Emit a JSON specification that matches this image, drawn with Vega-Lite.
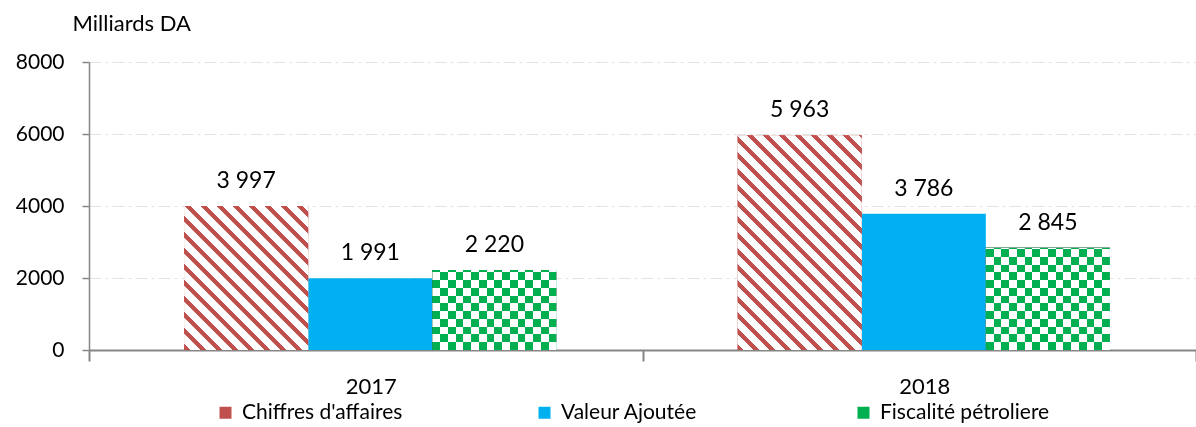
{
  "$schema": "https://vega.github.io/schema/vega-lite/v6.json",
  "width": 1107,
  "height": 288,
  "autosize": {"type": "none"},
  "padding": {"left": 89, "top": 62, "right": 0, "bottom": 77},
  "config": {
    "font": "Lato",
    "view": {"stroke": null},
    "locale": {"number": {"decimal": ",", "thousands": " ", "grouping": [3], "currency": ["", " DA"]}}
  },
  "data": {
    "values": [
      {"year": "2017", "series": "Chiffres d'affaires", "value": 3997},
      {"year": "2017", "series": "Valeur Ajoutée", "value": 1991},
      {"year": "2017", "series": "Fiscalité pétroliere", "value": 2220},
      {"year": "2018", "series": "Chiffres d'affaires", "value": 5963},
      {"year": "2018", "series": "Valeur Ajoutée", "value": 3786},
      {"year": "2018", "series": "Fiscalité pétroliere", "value": 2845}
    ]
  },
  "encoding": {
    "x": {
      "field": "year", "type": "nominal",
      "scale": {"domain": ["2017", "2018"], "paddingInner": 0, "paddingOuter": 0},
      "axis": {
        "title": null, "labelAngle": 0, "labelFontSize": 22, "labelColor": "#000000", "labelOffset": 5,
        "tickBand": "extent", "tickSize": 11, "tickColor": "#868686", "tickWidth": 2,
        "domainColor": "#868686", "domainWidth": 2, "labelPadding": 15, "grid": false
      }
    },
    "xOffset": {
      "field": "series", "type": "nominal",
      "scale": {"domain": ["Chiffres d'affaires", "Valeur Ajoutée", "Fiscalité pétroliere"], "paddingInner": 0, "paddingOuter": 0.73, "align": 0.525}
    },
    "y": {
      "field": "value", "type": "quantitative",
      "scale": {"domain": [0, 8000], "nice": false},
      "axis": {
        "title": "Milliards DA", "titleAngle": 0, "titleAlign": "left", "titleBaseline": "alphabetic",
        "titleX": -17, "titleY": -32, "titleFontSize": 22, "titleFontWeight": "normal", "titleColor": "#000000",
        "values": [0, 2000, 4000, 6000, 8000], "format": "d",
        "labelFontSize": 21, "labelColor": "#000000", "labelPadding": 18,
        "tickSize": 7, "tickColor": "#868686", "tickWidth": 1.5,
        "domainColor": "#868686", "domainWidth": 1.5,
        "grid": true, "gridColor": "#e3e3e3", "gridDash": [12, 4, 3, 4], "gridWidth": 1.2
      }
    }
  },
  "layer": [
    {
      "mark": {"type": "bar"},
      "encoding": {
        "color": {
          "field": "series", "type": "nominal",
          "scale": {"domain": ["Chiffres d'affaires", "Valeur Ajoutée", "Fiscalité pétroliere"], "range": ["#c0504d", "#00b0f0", "#00b050"]},
          "legend": {
            "orient": "none", "legendX": 126, "legendY": 340, "direction": "horizontal",
            "columns": 3, "gridAlign": "all", "columnPadding": 122, "title": null,
            "symbolType": "square", "symbolSize": 144, "symbolStrokeWidth": 0,
            "labelFontSize": 21, "labelColor": "#000000", "labelOffset": 6, "labelLimit": 0
          }
        }
      }
    },
    {
      "transform": [{"filter": {"and": [{"field": "series", "equal": "Chiffres d'affaires"}, {"field": "year", "equal": "2017"}]}}],
      "mark": {"type": "bar", "fill": {"gradient": "linear", "x1": 0, "y1": 1, "x2": 0.921, "y2": -0.068, "stops": [
        {"offset": 0, "color": "#c0504d"}, {"offset": 0.0227, "color": "#c0504d"}, {"offset": 0.0227, "color": "#ffffff"}, {"offset": 0.0597, "color": "#ffffff"},
        {"offset": 0.0597, "color": "#c0504d"}, {"offset": 0.0824, "color": "#c0504d"}, {"offset": 0.0824, "color": "#ffffff"}, {"offset": 0.1194, "color": "#ffffff"},
        {"offset": 0.1194, "color": "#c0504d"}, {"offset": 0.1421, "color": "#c0504d"}, {"offset": 0.1421, "color": "#ffffff"}, {"offset": 0.1791, "color": "#ffffff"},
        {"offset": 0.1791, "color": "#c0504d"}, {"offset": 0.2018, "color": "#c0504d"}, {"offset": 0.2018, "color": "#ffffff"}, {"offset": 0.2388, "color": "#ffffff"},
        {"offset": 0.2388, "color": "#c0504d"}, {"offset": 0.2615, "color": "#c0504d"}, {"offset": 0.2615, "color": "#ffffff"}, {"offset": 0.2986, "color": "#ffffff"},
        {"offset": 0.2986, "color": "#c0504d"}, {"offset": 0.3213, "color": "#c0504d"}, {"offset": 0.3213, "color": "#ffffff"}, {"offset": 0.3583, "color": "#ffffff"},
        {"offset": 0.3583, "color": "#c0504d"}, {"offset": 0.381, "color": "#c0504d"}, {"offset": 0.381, "color": "#ffffff"}, {"offset": 0.418, "color": "#ffffff"},
        {"offset": 0.418, "color": "#c0504d"}, {"offset": 0.4407, "color": "#c0504d"}, {"offset": 0.4407, "color": "#ffffff"}, {"offset": 0.4777, "color": "#ffffff"},
        {"offset": 0.4777, "color": "#c0504d"}, {"offset": 0.5004, "color": "#c0504d"}, {"offset": 0.5004, "color": "#ffffff"}, {"offset": 0.5374, "color": "#ffffff"},
        {"offset": 0.5374, "color": "#c0504d"}, {"offset": 0.5601, "color": "#c0504d"}, {"offset": 0.5601, "color": "#ffffff"}, {"offset": 0.5971, "color": "#ffffff"},
        {"offset": 0.5971, "color": "#c0504d"}, {"offset": 0.6198, "color": "#c0504d"}, {"offset": 0.6198, "color": "#ffffff"}, {"offset": 0.6568, "color": "#ffffff"},
        {"offset": 0.6568, "color": "#c0504d"}, {"offset": 0.6795, "color": "#c0504d"}, {"offset": 0.6795, "color": "#ffffff"}, {"offset": 0.7165, "color": "#ffffff"},
        {"offset": 0.7165, "color": "#c0504d"}, {"offset": 0.7392, "color": "#c0504d"}, {"offset": 0.7392, "color": "#ffffff"}, {"offset": 0.7762, "color": "#ffffff"},
        {"offset": 0.7762, "color": "#c0504d"}, {"offset": 0.7989, "color": "#c0504d"}, {"offset": 0.7989, "color": "#ffffff"}, {"offset": 0.836, "color": "#ffffff"},
        {"offset": 0.836, "color": "#c0504d"}, {"offset": 0.8587, "color": "#c0504d"}, {"offset": 0.8587, "color": "#ffffff"}, {"offset": 0.8957, "color": "#ffffff"},
        {"offset": 0.8957, "color": "#c0504d"}, {"offset": 0.9184, "color": "#c0504d"}, {"offset": 0.9184, "color": "#ffffff"}, {"offset": 0.9554, "color": "#ffffff"},
        {"offset": 0.9554, "color": "#c0504d"}, {"offset": 0.9781, "color": "#c0504d"}, {"offset": 0.9781, "color": "#ffffff"}, {"offset": 1, "color": "#ffffff"}
      ]}}
    },
    {
      "transform": [{"filter": {"and": [{"field": "series", "equal": "Chiffres d'affaires"}, {"field": "year", "equal": "2018"}]}}],
      "mark": {"type": "bar", "fill": {"gradient": "linear", "x1": 0, "y1": 1, "x2": 0.6835, "y2": -0.1826, "stops": [
        {"offset": 0, "color": "#c0504d"}, {"offset": 0.018, "color": "#c0504d"}, {"offset": 0.018, "color": "#ffffff"}, {"offset": 0.0472, "color": "#ffffff"},
        {"offset": 0.0472, "color": "#c0504d"}, {"offset": 0.0652, "color": "#c0504d"}, {"offset": 0.0652, "color": "#ffffff"}, {"offset": 0.0945, "color": "#ffffff"},
        {"offset": 0.0945, "color": "#c0504d"}, {"offset": 0.1125, "color": "#c0504d"}, {"offset": 0.1125, "color": "#ffffff"}, {"offset": 0.1417, "color": "#ffffff"},
        {"offset": 0.1417, "color": "#c0504d"}, {"offset": 0.1597, "color": "#c0504d"}, {"offset": 0.1597, "color": "#ffffff"}, {"offset": 0.189, "color": "#ffffff"},
        {"offset": 0.189, "color": "#c0504d"}, {"offset": 0.207, "color": "#c0504d"}, {"offset": 0.207, "color": "#ffffff"}, {"offset": 0.2362, "color": "#ffffff"},
        {"offset": 0.2362, "color": "#c0504d"}, {"offset": 0.2542, "color": "#c0504d"}, {"offset": 0.2542, "color": "#ffffff"}, {"offset": 0.2834, "color": "#ffffff"},
        {"offset": 0.2834, "color": "#c0504d"}, {"offset": 0.3014, "color": "#c0504d"}, {"offset": 0.3014, "color": "#ffffff"}, {"offset": 0.3307, "color": "#ffffff"},
        {"offset": 0.3307, "color": "#c0504d"}, {"offset": 0.3487, "color": "#c0504d"}, {"offset": 0.3487, "color": "#ffffff"}, {"offset": 0.3779, "color": "#ffffff"},
        {"offset": 0.3779, "color": "#c0504d"}, {"offset": 0.3959, "color": "#c0504d"}, {"offset": 0.3959, "color": "#ffffff"}, {"offset": 0.4252, "color": "#ffffff"},
        {"offset": 0.4252, "color": "#c0504d"}, {"offset": 0.4432, "color": "#c0504d"}, {"offset": 0.4432, "color": "#ffffff"}, {"offset": 0.4724, "color": "#ffffff"},
        {"offset": 0.4724, "color": "#c0504d"}, {"offset": 0.4904, "color": "#c0504d"}, {"offset": 0.4904, "color": "#ffffff"}, {"offset": 0.5196, "color": "#ffffff"},
        {"offset": 0.5196, "color": "#c0504d"}, {"offset": 0.5376, "color": "#c0504d"}, {"offset": 0.5376, "color": "#ffffff"}, {"offset": 0.5669, "color": "#ffffff"},
        {"offset": 0.5669, "color": "#c0504d"}, {"offset": 0.5849, "color": "#c0504d"}, {"offset": 0.5849, "color": "#ffffff"}, {"offset": 0.6141, "color": "#ffffff"},
        {"offset": 0.6141, "color": "#c0504d"}, {"offset": 0.6321, "color": "#c0504d"}, {"offset": 0.6321, "color": "#ffffff"}, {"offset": 0.6614, "color": "#ffffff"},
        {"offset": 0.6614, "color": "#c0504d"}, {"offset": 0.6794, "color": "#c0504d"}, {"offset": 0.6794, "color": "#ffffff"}, {"offset": 0.7086, "color": "#ffffff"},
        {"offset": 0.7086, "color": "#c0504d"}, {"offset": 0.7266, "color": "#c0504d"}, {"offset": 0.7266, "color": "#ffffff"}, {"offset": 0.7558, "color": "#ffffff"},
        {"offset": 0.7558, "color": "#c0504d"}, {"offset": 0.7738, "color": "#c0504d"}, {"offset": 0.7738, "color": "#ffffff"}, {"offset": 0.8031, "color": "#ffffff"},
        {"offset": 0.8031, "color": "#c0504d"}, {"offset": 0.8211, "color": "#c0504d"}, {"offset": 0.8211, "color": "#ffffff"}, {"offset": 0.8503, "color": "#ffffff"},
        {"offset": 0.8503, "color": "#c0504d"}, {"offset": 0.8683, "color": "#c0504d"}, {"offset": 0.8683, "color": "#ffffff"}, {"offset": 0.8976, "color": "#ffffff"},
        {"offset": 0.8976, "color": "#c0504d"}, {"offset": 0.9156, "color": "#c0504d"}, {"offset": 0.9156, "color": "#ffffff"}, {"offset": 0.9448, "color": "#ffffff"},
        {"offset": 0.9448, "color": "#c0504d"}, {"offset": 0.9628, "color": "#c0504d"}, {"offset": 0.9628, "color": "#ffffff"}, {"offset": 0.992, "color": "#ffffff"},
        {"offset": 0.992, "color": "#c0504d"}, {"offset": 1, "color": "#c0504d"}
      ]}}
    },
    {
      "transform": [{"filter": {"field": "series", "equal": "Fiscalité pétroliere"}}],
      "mark": {"type": "bar", "fill": {"gradient": "linear", "x1": 0, "y1": 0, "x2": 1, "y2": 0, "stops": [
        {"offset": 0, "color": "#000000"}, {"offset": 0.0625, "color": "#000000"}, {"offset": 0.0625, "color": "#ffffff"}, {"offset": 0.125, "color": "#ffffff"},
        {"offset": 0.125, "color": "#000000"}, {"offset": 0.1875, "color": "#000000"}, {"offset": 0.1875, "color": "#ffffff"}, {"offset": 0.25, "color": "#ffffff"},
        {"offset": 0.25, "color": "#000000"}, {"offset": 0.3125, "color": "#000000"}, {"offset": 0.3125, "color": "#ffffff"}, {"offset": 0.375, "color": "#ffffff"},
        {"offset": 0.375, "color": "#000000"}, {"offset": 0.4375, "color": "#000000"}, {"offset": 0.4375, "color": "#ffffff"}, {"offset": 0.5, "color": "#ffffff"},
        {"offset": 0.5, "color": "#000000"}, {"offset": 0.5625, "color": "#000000"}, {"offset": 0.5625, "color": "#ffffff"}, {"offset": 0.625, "color": "#ffffff"},
        {"offset": 0.625, "color": "#000000"}, {"offset": 0.6875, "color": "#000000"}, {"offset": 0.6875, "color": "#ffffff"}, {"offset": 0.75, "color": "#ffffff"},
        {"offset": 0.75, "color": "#000000"}, {"offset": 0.8125, "color": "#000000"}, {"offset": 0.8125, "color": "#ffffff"}, {"offset": 0.875, "color": "#ffffff"},
        {"offset": 0.875, "color": "#000000"}, {"offset": 0.9375, "color": "#000000"}, {"offset": 0.9375, "color": "#ffffff"}, {"offset": 1, "color": "#ffffff"}
      ]}}
    },
    {
      "transform": [{"filter": {"and": [{"field": "series", "equal": "Fiscalité pétroliere"}, {"field": "year", "equal": "2017"}]}}],
      "mark": {"type": "bar", "blend": "difference", "fill": {"gradient": "linear", "x1": 0, "y1": 1, "x2": 0, "y2": 0, "stops": [
        {"offset": 0, "color": "#000000"}, {"offset": 0.097, "color": "#000000"}, {"offset": 0.097, "color": "#ffffff"}, {"offset": 0.194, "color": "#ffffff"},
        {"offset": 0.194, "color": "#000000"}, {"offset": 0.291, "color": "#000000"}, {"offset": 0.291, "color": "#ffffff"}, {"offset": 0.388, "color": "#ffffff"},
        {"offset": 0.388, "color": "#000000"}, {"offset": 0.485, "color": "#000000"}, {"offset": 0.485, "color": "#ffffff"}, {"offset": 0.582, "color": "#ffffff"},
        {"offset": 0.582, "color": "#000000"}, {"offset": 0.679, "color": "#000000"}, {"offset": 0.679, "color": "#ffffff"}, {"offset": 0.776, "color": "#ffffff"},
        {"offset": 0.776, "color": "#000000"}, {"offset": 0.873, "color": "#000000"}, {"offset": 0.873, "color": "#ffffff"}, {"offset": 0.97, "color": "#ffffff"},
        {"offset": 0.97, "color": "#000000"}, {"offset": 1, "color": "#000000"}
      ]}}
    },
    {
      "transform": [{"filter": {"and": [{"field": "series", "equal": "Fiscalité pétroliere"}, {"field": "year", "equal": "2018"}]}}],
      "mark": {"type": "bar", "blend": "difference", "fill": {"gradient": "linear", "x1": 0, "y1": 1, "x2": 0, "y2": 0, "stops": [
        {"offset": 0, "color": "#000000"}, {"offset": 0.0757, "color": "#000000"}, {"offset": 0.0757, "color": "#ffffff"}, {"offset": 0.1514, "color": "#ffffff"},
        {"offset": 0.1514, "color": "#000000"}, {"offset": 0.2271, "color": "#000000"}, {"offset": 0.2271, "color": "#ffffff"}, {"offset": 0.3028, "color": "#ffffff"},
        {"offset": 0.3028, "color": "#000000"}, {"offset": 0.3785, "color": "#000000"}, {"offset": 0.3785, "color": "#ffffff"}, {"offset": 0.4542, "color": "#ffffff"},
        {"offset": 0.4542, "color": "#000000"}, {"offset": 0.5299, "color": "#000000"}, {"offset": 0.5299, "color": "#ffffff"}, {"offset": 0.6056, "color": "#ffffff"},
        {"offset": 0.6056, "color": "#000000"}, {"offset": 0.6813, "color": "#000000"}, {"offset": 0.6813, "color": "#ffffff"}, {"offset": 0.757, "color": "#ffffff"},
        {"offset": 0.757, "color": "#000000"}, {"offset": 0.8327, "color": "#000000"}, {"offset": 0.8327, "color": "#ffffff"}, {"offset": 0.9084, "color": "#ffffff"},
        {"offset": 0.9084, "color": "#000000"}, {"offset": 0.9841, "color": "#000000"}, {"offset": 0.9841, "color": "#ffffff"}, {"offset": 1, "color": "#ffffff"}
      ]}}
    },
    {
      "transform": [{"filter": {"field": "series", "equal": "Fiscalité pétroliere"}}],
      "mark": {"type": "bar", "blend": "screen", "fill": "#00b050"}
    },
    {
      "mark": {"type": "text", "baseline": "alphabetic", "dy": -18, "fontSize": 23, "color": "#000000"},
      "encoding": {
        "text": {"field": "value", "type": "quantitative", "format": ",d"}
      }
    }
  ]
}
